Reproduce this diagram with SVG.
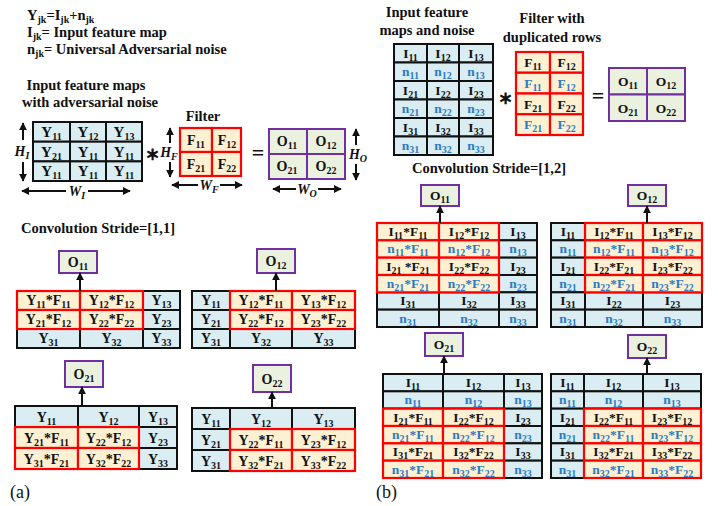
<svg xmlns="http://www.w3.org/2000/svg" width="718" height="506" viewBox="0 0 718 506">
<style>
text{font-family:"Liberation Serif","Times New Roman",serif;font-weight:bold;fill:#111}
.t{font-size:15px;text-anchor:middle}
.m{font-size:14px;text-anchor:middle}
.r{font-size:13.5px;text-anchor:middle}
.h{font-size:14.5px}
.hc{font-size:14.5px;text-anchor:middle}
.s{font-size:10px}
.bl{fill:#2A7BC4}
.cb{fill:#DAEDF3;stroke:#111;stroke-width:2}
.co{fill:#FEF0D2;stroke:#F00;stroke-width:2.2}
.cg{fill:#EBF1DF;stroke:#7030A0;stroke-width:2}
.ln{stroke:#111;stroke-width:2;fill:none}
.it{font-style:italic;font-size:14px;text-anchor:middle}
.sym{font-size:22px;text-anchor:middle}
.ast{font-size:18px;text-anchor:middle}
</style>
<defs>
<marker id="ah" viewBox="0 0 10 10" refX="9" refY="5" markerWidth="8" markerHeight="8" markerUnits="userSpaceOnUse" orient="auto"><path d="M0,0L10,5L0,10z" fill="#111"/></marker>
</defs>

<!-- ===== (a) header ===== -->
<g id="legend">
<text x="27" y="20" class="h">Y<tspan class="s" dy="3">jk</tspan><tspan dy="-3">=I</tspan><tspan class="s" dy="3">jk</tspan><tspan dy="-3">+n</tspan><tspan class="s" dy="3">jk</tspan></text>
<text x="27" y="37" class="h">I<tspan class="s" dy="3">jk</tspan><tspan dy="-3">= Input feature map</tspan></text>
<text x="27" y="54" class="h">n<tspan class="s" dy="3">jk</tspan><tspan dy="-3">= Universal Adversarial noise</tspan></text>
</g>

<g id="a-input">
<text x="86" y="90" class="hc">Input feature maps</text>
<text x="90" y="107" class="hc">with adversarial noise</text>
<rect x="33" y="122" width="37" height="19.7" class="cb"/><rect x="70" y="122" width="36" height="19.7" class="cb"/><rect x="106" y="122" width="36" height="19.7" class="cb"/>
<rect x="33" y="141.7" width="37" height="19.7" class="cb"/><rect x="70" y="141.7" width="36" height="19.7" class="cb"/><rect x="106" y="141.7" width="36" height="19.7" class="cb"/>
<rect x="33" y="161.4" width="37" height="19.6" class="cb"/><rect x="70" y="161.4" width="36" height="19.6" class="cb"/><rect x="106" y="161.4" width="36" height="19.6" class="cb"/>
<text x="51.5" y="137" class="t">Y<tspan class="s" dy="3">11</tspan></text>
<text x="88" y="137" class="t">Y<tspan class="s" dy="3">12</tspan></text>
<text x="124" y="137" class="t">Y<tspan class="s" dy="3">13</tspan></text>
<text x="51.5" y="156.5" class="t">Y<tspan class="s" dy="3">21</tspan></text>
<text x="88" y="156.5" class="t">Y<tspan class="s" dy="3">11</tspan></text>
<text x="124" y="156.5" class="t">Y<tspan class="s" dy="3">11</tspan></text>
<text x="51.5" y="176" class="t">Y<tspan class="s" dy="3">11</tspan></text>
<text x="88" y="176" class="t">Y<tspan class="s" dy="3">11</tspan></text>
<text x="124" y="176" class="t">Y<tspan class="s" dy="3">11</tspan></text>
<line x1="23" y1="140" x2="23" y2="123" class="ln" marker-end="url(#ah)"/>
<line x1="23" y1="162" x2="23" y2="181" class="ln" marker-end="url(#ah)"/>
<text x="22" y="156" class="it">H<tspan class="s" dy="3">I</tspan></text>
<line x1="66" y1="191" x2="22" y2="191" class="ln" marker-end="url(#ah)"/>
<line x1="88" y1="191" x2="130" y2="191" class="ln" marker-end="url(#ah)"/>
<text x="77" y="196" class="it">W<tspan class="s" dy="3">I</tspan></text>
<text x="152" y="160" class="ast">∗</text>
</g>

<g id="a-filter">
<text x="203" y="121" class="hc">Filter</text>
<rect x="180" y="128" width="32" height="24" class="co"/><rect x="212" y="128" width="29" height="24" class="co"/>
<rect x="180" y="152" width="32" height="24" class="co"/><rect x="212" y="152" width="29" height="24" class="co"/>
<text x="196" y="145" class="m">F<tspan class="s" dy="3">11</tspan></text>
<text x="227" y="145" class="m">F<tspan class="s" dy="3">12</tspan></text>
<text x="196" y="169" class="m">F<tspan class="s" dy="3">21</tspan></text>
<text x="227" y="169" class="m">F<tspan class="s" dy="3">22</tspan></text>
<line x1="170" y1="143" x2="170" y2="128" class="ln" marker-end="url(#ah)"/>
<line x1="170" y1="162" x2="170" y2="177" class="ln" marker-end="url(#ah)"/>
<text x="169" y="157" class="it">H<tspan class="s" dy="3">F</tspan></text>
<line x1="198" y1="185" x2="172" y2="185" class="ln" marker-end="url(#ah)"/>
<line x1="220" y1="185" x2="242" y2="185" class="ln" marker-end="url(#ah)"/>
<text x="209" y="190" class="it">W<tspan class="s" dy="3">F</tspan></text>
<text x="258" y="160" class="sym">=</text>
</g>

<g id="a-output">
<rect x="269" y="129" width="38" height="25" class="cg"/><rect x="307" y="129" width="38" height="25" class="cg"/>
<rect x="269" y="154" width="38" height="25" class="cg"/><rect x="307" y="154" width="38" height="25" class="cg"/>
<text x="287" y="146" class="m">O<tspan class="s" dy="3">11</tspan></text>
<text x="326" y="146" class="m">O<tspan class="s" dy="3">12</tspan></text>
<text x="287" y="171" class="m">O<tspan class="s" dy="3">21</tspan></text>
<text x="326" y="171" class="m">O<tspan class="s" dy="3">22</tspan></text>
<line x1="356" y1="145" x2="356" y2="129" class="ln" marker-end="url(#ah)"/>
<line x1="356" y1="164" x2="356" y2="180" class="ln" marker-end="url(#ah)"/>
<text x="358" y="159" class="it">H<tspan class="s" dy="3">O</tspan></text>
<line x1="296" y1="189" x2="273" y2="189" class="ln" marker-end="url(#ah)"/>
<line x1="318" y1="189" x2="341" y2="189" class="ln" marker-end="url(#ah)"/>
<text x="307" y="194" class="it">W<tspan class="s" dy="3">O</tspan></text>
</g>

<text x="21" y="233" class="h">Convolution Stride=[1,1]</text>

<!-- a O11 -->
<g id="a-o11">
<rect x="59" y="251" width="38" height="22" class="cg"/>
<text x="78" y="267" class="m">O<tspan class="s" dy="3">11</tspan></text>
<rect x="17" y="291" width="63" height="19" class="cb"/><rect x="80" y="291" width="63" height="19" class="cb"/><rect x="143" y="291" width="37" height="19" class="cb"/>
<rect x="17" y="310" width="63" height="19" class="cb"/><rect x="80" y="310" width="63" height="19" class="cb"/><rect x="143" y="310" width="37" height="19" class="cb"/>
<rect x="17" y="329" width="63" height="19" class="cb"/><rect x="80" y="329" width="63" height="19" class="cb"/><rect x="143" y="329" width="37" height="19" class="cb"/>
<rect x="17" y="291" width="63" height="19" class="co"/><rect x="80" y="291" width="63" height="19" class="co"/>
<rect x="17" y="310" width="63" height="19" class="co"/><rect x="80" y="310" width="63" height="19" class="co"/>
<text x="48.5" y="305" class="m">Y<tspan class="s" dy="3">11</tspan><tspan dy="-3">*F</tspan><tspan class="s" dy="3">11</tspan></text>
<text x="111.5" y="305" class="m">Y<tspan class="s" dy="3">12</tspan><tspan dy="-3">*F</tspan><tspan class="s" dy="3">12</tspan></text>
<text x="161.5" y="305" class="m">Y<tspan class="s" dy="3">13</tspan></text>
<text x="48.5" y="324" class="m">Y<tspan class="s" dy="3">21</tspan><tspan dy="-3">*F</tspan><tspan class="s" dy="3">12</tspan></text>
<text x="111.5" y="324" class="m">Y<tspan class="s" dy="3">22</tspan><tspan dy="-3">*F</tspan><tspan class="s" dy="3">22</tspan></text>
<text x="161.5" y="324" class="m">Y<tspan class="s" dy="3">23</tspan></text>
<text x="48.5" y="343" class="m">Y<tspan class="s" dy="3">31</tspan></text>
<text x="111.5" y="343" class="m">Y<tspan class="s" dy="3">32</tspan></text>
<text x="161.5" y="343" class="m">Y<tspan class="s" dy="3">33</tspan></text>
</g>

<!-- a O12 -->
<g id="a-o12">
<rect x="257" y="249" width="38" height="24" class="cg"/>
<text x="276" y="266" class="m">O<tspan class="s" dy="3">12</tspan></text>
<rect x="192" y="291" width="38" height="19" class="cb"/><rect x="230" y="291" width="62" height="19" class="cb"/><rect x="292" y="291" width="63" height="19" class="cb"/>
<rect x="192" y="310" width="38" height="19" class="cb"/><rect x="230" y="310" width="62" height="19" class="cb"/><rect x="292" y="310" width="63" height="19" class="cb"/>
<rect x="192" y="329" width="38" height="19" class="cb"/><rect x="230" y="329" width="62" height="19" class="cb"/><rect x="292" y="329" width="63" height="19" class="cb"/>
<rect x="230" y="291" width="62" height="19" class="co"/><rect x="292" y="291" width="63" height="19" class="co"/>
<rect x="230" y="310" width="62" height="19" class="co"/><rect x="292" y="310" width="63" height="19" class="co"/>
<text x="211" y="305" class="m">Y<tspan class="s" dy="3">11</tspan></text>
<text x="261" y="305" class="m">Y<tspan class="s" dy="3">12</tspan><tspan dy="-3">*F</tspan><tspan class="s" dy="3">11</tspan></text>
<text x="323.5" y="305" class="m">Y<tspan class="s" dy="3">13</tspan><tspan dy="-3">*F</tspan><tspan class="s" dy="3">12</tspan></text>
<text x="211" y="324" class="m">Y<tspan class="s" dy="3">21</tspan></text>
<text x="261" y="324" class="m">Y<tspan class="s" dy="3">22</tspan><tspan dy="-3">*F</tspan><tspan class="s" dy="3">12</tspan></text>
<text x="323.5" y="324" class="m">Y<tspan class="s" dy="3">23</tspan><tspan dy="-3">*F</tspan><tspan class="s" dy="3">22</tspan></text>
<text x="211" y="343" class="m">Y<tspan class="s" dy="3">31</tspan></text>
<text x="261" y="343" class="m">Y<tspan class="s" dy="3">32</tspan></text>
<text x="323.5" y="343" class="m">Y<tspan class="s" dy="3">33</tspan></text>
</g>

<!-- a O21 -->
<g id="a-o21">
<rect x="65" y="361" width="38" height="26" class="cg"/>
<text x="84" y="379" class="m">O<tspan class="s" dy="3">21</tspan></text>
<rect x="15" y="406" width="63" height="21" class="cb"/><rect x="78" y="406" width="61" height="21" class="cb"/><rect x="139" y="406" width="38" height="21" class="cb"/>
<rect x="15" y="427" width="63" height="21" class="cb"/><rect x="78" y="427" width="61" height="21" class="cb"/><rect x="139" y="427" width="38" height="21" class="cb"/>
<rect x="15" y="448" width="63" height="21" class="cb"/><rect x="78" y="448" width="61" height="21" class="cb"/><rect x="139" y="448" width="38" height="21" class="cb"/>
<rect x="15" y="427" width="63" height="21" class="co"/><rect x="78" y="427" width="61" height="21" class="co"/>
<rect x="15" y="448" width="63" height="21" class="co"/><rect x="78" y="448" width="61" height="21" class="co"/>
<text x="46.5" y="421.5" class="m">Y<tspan class="s" dy="3">11</tspan></text>
<text x="108.5" y="421.5" class="m">Y<tspan class="s" dy="3">12</tspan></text>
<text x="158" y="421.5" class="m">Y<tspan class="s" dy="3">13</tspan></text>
<text x="46.5" y="442.5" class="m">Y<tspan class="s" dy="3">21</tspan><tspan dy="-3">*F</tspan><tspan class="s" dy="3">11</tspan></text>
<text x="108.5" y="442.5" class="m">Y<tspan class="s" dy="3">22</tspan><tspan dy="-3">*F</tspan><tspan class="s" dy="3">12</tspan></text>
<text x="158" y="442.5" class="m">Y<tspan class="s" dy="3">23</tspan></text>
<text x="46.5" y="463.5" class="m">Y<tspan class="s" dy="3">31</tspan><tspan dy="-3">*F</tspan><tspan class="s" dy="3">21</tspan></text>
<text x="108.5" y="463.5" class="m">Y<tspan class="s" dy="3">32</tspan><tspan dy="-3">*F</tspan><tspan class="s" dy="3">22</tspan></text>
<text x="158" y="463.5" class="m">Y<tspan class="s" dy="3">33</tspan></text>
</g>

<!-- a O22 -->
<g id="a-o22">
<rect x="253" y="365" width="38" height="27" class="cg"/>
<text x="272" y="384" class="m">O<tspan class="s" dy="3">22</tspan></text>
<rect x="192" y="408" width="38" height="21" class="cb"/><rect x="230" y="408" width="62" height="21" class="cb"/><rect x="292" y="408" width="63" height="21" class="cb"/>
<rect x="192" y="429" width="38" height="21" class="cb"/><rect x="230" y="429" width="62" height="21" class="cb"/><rect x="292" y="429" width="63" height="21" class="cb"/>
<rect x="192" y="450" width="38" height="21" class="cb"/><rect x="230" y="450" width="62" height="21" class="cb"/><rect x="292" y="450" width="63" height="21" class="cb"/>
<rect x="230" y="429" width="62" height="21" class="co"/><rect x="292" y="429" width="63" height="21" class="co"/>
<rect x="230" y="450" width="62" height="21" class="co"/><rect x="292" y="450" width="63" height="21" class="co"/>
<text x="211" y="423.5" class="m">Y<tspan class="s" dy="3">11</tspan></text>
<text x="261" y="423.5" class="m">Y<tspan class="s" dy="3">12</tspan></text>
<text x="323.5" y="423.5" class="m">Y<tspan class="s" dy="3">13</tspan></text>
<text x="211" y="444.5" class="m">Y<tspan class="s" dy="3">21</tspan></text>
<text x="261" y="444.5" class="m">Y<tspan class="s" dy="3">22</tspan><tspan dy="-3">*F</tspan><tspan class="s" dy="3">11</tspan></text>
<text x="323.5" y="444.5" class="m">Y<tspan class="s" dy="3">23</tspan><tspan dy="-3">*F</tspan><tspan class="s" dy="3">12</tspan></text>
<text x="211" y="465.5" class="m">Y<tspan class="s" dy="3">31</tspan></text>
<text x="261" y="465.5" class="m">Y<tspan class="s" dy="3">32</tspan><tspan dy="-3">*F</tspan><tspan class="s" dy="3">21</tspan></text>
<text x="323.5" y="465.5" class="m">Y<tspan class="s" dy="3">33</tspan><tspan dy="-3">*F</tspan><tspan class="s" dy="3">22</tspan></text>
</g>

<text x="10" y="498" style="font-weight:normal;font-size:18px">(a)</text>

<!-- ===== (b) ===== -->
<g id="b-input">
<text x="427" y="17" class="hc">Input feature</text>
<text x="427" y="35" class="hc">maps and noise</text>
<rect x="394" y="44" width="33" height="18.5" class="cb"/><rect x="427" y="44" width="32" height="18.5" class="cb"/><rect x="459" y="44" width="34" height="18.5" class="cb"/>
<rect x="394" y="62.5" width="33" height="18.5" class="cb"/><rect x="427" y="62.5" width="32" height="18.5" class="cb"/><rect x="459" y="62.5" width="34" height="18.5" class="cb"/>
<rect x="394" y="81" width="33" height="18.5" class="cb"/><rect x="427" y="81" width="32" height="18.5" class="cb"/><rect x="459" y="81" width="34" height="18.5" class="cb"/>
<rect x="394" y="99.5" width="33" height="18.5" class="cb"/><rect x="427" y="99.5" width="32" height="18.5" class="cb"/><rect x="459" y="99.5" width="34" height="18.5" class="cb"/>
<rect x="394" y="118" width="33" height="18.5" class="cb"/><rect x="427" y="118" width="32" height="18.5" class="cb"/><rect x="459" y="118" width="34" height="18.5" class="cb"/>
<rect x="394" y="136.5" width="33" height="18.5" class="cb"/><rect x="427" y="136.5" width="32" height="18.5" class="cb"/><rect x="459" y="136.5" width="34" height="18.5" class="cb"/>
<text x="410.5" y="57.5" class="r">I<tspan class="s" dy="3">11</tspan></text><text x="443" y="57.5" class="r">I<tspan class="s" dy="3">12</tspan></text><text x="476" y="57.5" class="r">I<tspan class="s" dy="3">13</tspan></text>
<text x="410.5" y="76" class="r bl">n<tspan class="s" dy="3">11</tspan></text><text x="443" y="76" class="r bl">n<tspan class="s" dy="3">12</tspan></text><text x="476" y="76" class="r bl">n<tspan class="s" dy="3">13</tspan></text>
<text x="410.5" y="94.5" class="r">I<tspan class="s" dy="3">21</tspan></text><text x="443" y="94.5" class="r">I<tspan class="s" dy="3">22</tspan></text><text x="476" y="94.5" class="r">I<tspan class="s" dy="3">23</tspan></text>
<text x="410.5" y="113" class="r bl">n<tspan class="s" dy="3">21</tspan></text><text x="443" y="113" class="r bl">n<tspan class="s" dy="3">22</tspan></text><text x="476" y="113" class="r bl">n<tspan class="s" dy="3">23</tspan></text>
<text x="410.5" y="131.5" class="r">I<tspan class="s" dy="3">31</tspan></text><text x="443" y="131.5" class="r">I<tspan class="s" dy="3">32</tspan></text><text x="476" y="131.5" class="r">I<tspan class="s" dy="3">33</tspan></text>
<text x="410.5" y="150" class="r bl">n<tspan class="s" dy="3">31</tspan></text><text x="443" y="150" class="r bl">n<tspan class="s" dy="3">32</tspan></text><text x="476" y="150" class="r bl">n<tspan class="s" dy="3">33</tspan></text>
<text x="505" y="104" class="ast">∗</text>
</g>

<g id="b-filter">
<text x="552" y="23" class="hc">Filter with</text>
<text x="552" y="42" class="hc">duplicated rows</text>
<rect x="516" y="52" width="34" height="20.75" class="co"/><rect x="550" y="52" width="33" height="20.75" class="co"/>
<rect x="516" y="72.75" width="34" height="20.75" class="co"/><rect x="550" y="72.75" width="33" height="20.75" class="co"/>
<rect x="516" y="93.5" width="34" height="20.75" class="co"/><rect x="550" y="93.5" width="33" height="20.75" class="co"/>
<rect x="516" y="114.25" width="34" height="20.75" class="co"/><rect x="550" y="114.25" width="33" height="20.75" class="co"/>
<text x="533" y="67" class="r">F<tspan class="s" dy="3">11</tspan></text><text x="566.5" y="67" class="r">F<tspan class="s" dy="3">12</tspan></text>
<text x="533" y="87.5" class="r bl">F<tspan class="s" dy="3">11</tspan></text><text x="566.5" y="87.5" class="r bl">F<tspan class="s" dy="3">12</tspan></text>
<text x="533" y="108.5" class="r">F<tspan class="s" dy="3">21</tspan></text><text x="566.5" y="108.5" class="r">F<tspan class="s" dy="3">22</tspan></text>
<text x="533" y="129" class="r bl">F<tspan class="s" dy="3">21</tspan></text><text x="566.5" y="129" class="r bl">F<tspan class="s" dy="3">22</tspan></text>
<text x="598" y="103" class="sym">=</text>
</g>

<g id="b-output">
<rect x="609" y="68" width="38" height="26.5" class="cg"/><rect x="647" y="68" width="38" height="26.5" class="cg"/>
<rect x="609" y="94.5" width="38" height="26.5" class="cg"/><rect x="647" y="94.5" width="38" height="26.5" class="cg"/>
<text x="628" y="86" class="r">O<tspan class="s" dy="3">11</tspan></text><text x="666" y="86" class="r">O<tspan class="s" dy="3">12</tspan></text>
<text x="628" y="112.5" class="r">O<tspan class="s" dy="3">21</tspan></text><text x="666" y="112.5" class="r">O<tspan class="s" dy="3">22</tspan></text>
</g>

<text x="412" y="173" class="h">Convolution Stride=[1,2]</text>

<!-- b O11 -->
<g id="b-o11">
<rect x="421" y="185" width="38" height="21" class="cg"/>
<text x="440" y="200" class="r">O<tspan class="s" dy="3">11</tspan></text>
<rect x="377" y="223" width="62" height="17.33" class="cb"/><rect x="439" y="223" width="60" height="17.33" class="cb"/><rect x="499" y="223" width="38" height="17.33" class="cb"/>
<rect x="377" y="240.33" width="62" height="17.33" class="cb"/><rect x="439" y="240.33" width="60" height="17.33" class="cb"/><rect x="499" y="240.33" width="38" height="17.33" class="cb"/>
<rect x="377" y="257.67" width="62" height="17.33" class="cb"/><rect x="439" y="257.67" width="60" height="17.33" class="cb"/><rect x="499" y="257.67" width="38" height="17.33" class="cb"/>
<rect x="377" y="275" width="62" height="17.33" class="cb"/><rect x="439" y="275" width="60" height="17.33" class="cb"/><rect x="499" y="275" width="38" height="17.33" class="cb"/>
<rect x="377" y="292.33" width="62" height="17.33" class="cb"/><rect x="439" y="292.33" width="60" height="17.33" class="cb"/><rect x="499" y="292.33" width="38" height="17.33" class="cb"/>
<rect x="377" y="309.67" width="62" height="17.33" class="cb"/><rect x="439" y="309.67" width="60" height="17.33" class="cb"/><rect x="499" y="309.67" width="38" height="17.33" class="cb"/>
<rect x="377" y="223" width="62" height="17.33" class="co"/><rect x="439" y="223" width="60" height="17.33" class="co"/>
<rect x="377" y="240.33" width="62" height="17.33" class="co"/><rect x="439" y="240.33" width="60" height="17.33" class="co"/>
<rect x="377" y="257.67" width="62" height="17.33" class="co"/><rect x="439" y="257.67" width="60" height="17.33" class="co"/>
<rect x="377" y="275" width="62" height="17.33" class="co"/><rect x="439" y="275" width="60" height="17.33" class="co"/>
<text x="408" y="236" class="r">I<tspan class="s" dy="3">11</tspan><tspan dy="-3">*F</tspan><tspan class="s" dy="3">11</tspan></text>
<text x="469" y="236" class="r">I<tspan class="s" dy="3">12</tspan><tspan dy="-3">*F</tspan><tspan class="s" dy="3">12</tspan></text>
<text x="518" y="236" class="r">I<tspan class="s" dy="3">13</tspan></text>
<text x="408" y="253.3" class="r bl">n<tspan class="s" dy="3">11</tspan><tspan dy="-3">*F</tspan><tspan class="s" dy="3">11</tspan></text>
<text x="469" y="253.3" class="r bl">n<tspan class="s" dy="3">12</tspan><tspan dy="-3">*F</tspan><tspan class="s" dy="3">12</tspan></text>
<text x="518" y="253.3" class="r bl">n<tspan class="s" dy="3">13</tspan></text>
<text x="408" y="270.7" class="r">I<tspan class="s" dy="3">21</tspan><tspan dy="-3"> *F</tspan><tspan class="s" dy="3">21</tspan></text>
<text x="469" y="270.7" class="r">I<tspan class="s" dy="3">22</tspan><tspan dy="-3">*F</tspan><tspan class="s" dy="3">22</tspan></text>
<text x="518" y="270.7" class="r">I<tspan class="s" dy="3">23</tspan></text>
<text x="408" y="288" class="r bl">n<tspan class="s" dy="3">21</tspan><tspan dy="-3">*F</tspan><tspan class="s" dy="3">21</tspan></text>
<text x="469" y="288" class="r bl">n<tspan class="s" dy="3">22</tspan><tspan dy="-3">*F</tspan><tspan class="s" dy="3">22</tspan></text>
<text x="518" y="288" class="r bl">n<tspan class="s" dy="3">23</tspan></text>
<text x="408" y="305.3" class="r">I<tspan class="s" dy="3">31</tspan></text>
<text x="469" y="305.3" class="r">I<tspan class="s" dy="3">32</tspan></text>
<text x="518" y="305.3" class="r">I<tspan class="s" dy="3">33</tspan></text>
<text x="408" y="322.7" class="r bl">n<tspan class="s" dy="3">31</tspan></text>
<text x="469" y="322.7" class="r bl">n<tspan class="s" dy="3">32</tspan></text>
<text x="518" y="322.7" class="r bl">n<tspan class="s" dy="3">33</tspan></text>
</g>

<!-- b O12 -->
<g id="b-o12">
<rect x="628" y="185" width="38" height="21" class="cg"/>
<text x="647" y="200" class="r">O<tspan class="s" dy="3">12</tspan></text>
<rect x="551" y="223" width="34" height="17.33" class="cb"/><rect x="585" y="223" width="58" height="17.33" class="cb"/><rect x="643" y="223" width="59" height="17.33" class="cb"/>
<rect x="551" y="240.33" width="34" height="17.33" class="cb"/><rect x="585" y="240.33" width="58" height="17.33" class="cb"/><rect x="643" y="240.33" width="59" height="17.33" class="cb"/>
<rect x="551" y="257.67" width="34" height="17.33" class="cb"/><rect x="585" y="257.67" width="58" height="17.33" class="cb"/><rect x="643" y="257.67" width="59" height="17.33" class="cb"/>
<rect x="551" y="275" width="34" height="17.33" class="cb"/><rect x="585" y="275" width="58" height="17.33" class="cb"/><rect x="643" y="275" width="59" height="17.33" class="cb"/>
<rect x="551" y="292.33" width="34" height="17.33" class="cb"/><rect x="585" y="292.33" width="58" height="17.33" class="cb"/><rect x="643" y="292.33" width="59" height="17.33" class="cb"/>
<rect x="551" y="309.67" width="34" height="17.33" class="cb"/><rect x="585" y="309.67" width="58" height="17.33" class="cb"/><rect x="643" y="309.67" width="59" height="17.33" class="cb"/>
<rect x="585" y="223" width="58" height="17.33" class="co"/><rect x="643" y="223" width="59" height="17.33" class="co"/>
<rect x="585" y="240.33" width="58" height="17.33" class="co"/><rect x="643" y="240.33" width="59" height="17.33" class="co"/>
<rect x="585" y="257.67" width="58" height="17.33" class="co"/><rect x="643" y="257.67" width="59" height="17.33" class="co"/>
<rect x="585" y="275" width="58" height="17.33" class="co"/><rect x="643" y="275" width="59" height="17.33" class="co"/>
<text x="568" y="236" class="r">I<tspan class="s" dy="3">11</tspan></text>
<text x="614" y="236" class="r">I<tspan class="s" dy="3">12</tspan><tspan dy="-3">*F</tspan><tspan class="s" dy="3">11</tspan></text>
<text x="672.5" y="236" class="r">I<tspan class="s" dy="3">13</tspan><tspan dy="-3">*F</tspan><tspan class="s" dy="3">12</tspan></text>
<text x="568" y="253.3" class="r bl">n<tspan class="s" dy="3">11</tspan></text>
<text x="614" y="253.3" class="r bl">n<tspan class="s" dy="3">12</tspan><tspan dy="-3">*F</tspan><tspan class="s" dy="3">11</tspan></text>
<text x="672.5" y="253.3" class="r bl">n<tspan class="s" dy="3">13</tspan><tspan dy="-3">*F</tspan><tspan class="s" dy="3">12</tspan></text>
<text x="568" y="270.7" class="r">I<tspan class="s" dy="3">21</tspan></text>
<text x="614" y="270.7" class="r">I<tspan class="s" dy="3">22</tspan><tspan dy="-3">*F</tspan><tspan class="s" dy="3">21</tspan></text>
<text x="672.5" y="270.7" class="r">I<tspan class="s" dy="3">23</tspan><tspan dy="-3">*F</tspan><tspan class="s" dy="3">22</tspan></text>
<text x="568" y="288" class="r bl">n<tspan class="s" dy="3">21</tspan></text>
<text x="614" y="288" class="r bl">n<tspan class="s" dy="3">22</tspan><tspan dy="-3">*F</tspan><tspan class="s" dy="3">21</tspan></text>
<text x="672.5" y="288" class="r bl">n<tspan class="s" dy="3">23</tspan><tspan dy="-3">*F</tspan><tspan class="s" dy="3">22</tspan></text>
<text x="568" y="305.3" class="r">I<tspan class="s" dy="3">31</tspan></text>
<text x="614" y="305.3" class="r">I<tspan class="s" dy="3">22</tspan></text>
<text x="672.5" y="305.3" class="r">I<tspan class="s" dy="3">23</tspan></text>
<text x="568" y="322.7" class="r bl">n<tspan class="s" dy="3">31</tspan></text>
<text x="614" y="322.7" class="r bl">n<tspan class="s" dy="3">32</tspan></text>
<text x="672.5" y="322.7" class="r bl">n<tspan class="s" dy="3">33</tspan></text>
</g>

<!-- b O21 -->
<g id="b-o21">
<rect x="425" y="333" width="38" height="23" class="cg"/>
<text x="444" y="349" class="r">O<tspan class="s" dy="3">21</tspan></text>
<rect x="383" y="374" width="60" height="17.33" class="cb"/><rect x="443" y="374" width="61" height="17.33" class="cb"/><rect x="504" y="374" width="38" height="17.33" class="cb"/>
<rect x="383" y="391.33" width="60" height="17.33" class="cb"/><rect x="443" y="391.33" width="61" height="17.33" class="cb"/><rect x="504" y="391.33" width="38" height="17.33" class="cb"/>
<rect x="383" y="408.67" width="60" height="17.33" class="cb"/><rect x="443" y="408.67" width="61" height="17.33" class="cb"/><rect x="504" y="408.67" width="38" height="17.33" class="cb"/>
<rect x="383" y="426" width="60" height="17.33" class="cb"/><rect x="443" y="426" width="61" height="17.33" class="cb"/><rect x="504" y="426" width="38" height="17.33" class="cb"/>
<rect x="383" y="443.33" width="60" height="17.33" class="cb"/><rect x="443" y="443.33" width="61" height="17.33" class="cb"/><rect x="504" y="443.33" width="38" height="17.33" class="cb"/>
<rect x="383" y="460.67" width="60" height="17.33" class="cb"/><rect x="443" y="460.67" width="61" height="17.33" class="cb"/><rect x="504" y="460.67" width="38" height="17.33" class="cb"/>
<rect x="383" y="408.67" width="60" height="17.33" class="co"/><rect x="443" y="408.67" width="61" height="17.33" class="co"/>
<rect x="383" y="426" width="60" height="17.33" class="co"/><rect x="443" y="426" width="61" height="17.33" class="co"/>
<rect x="383" y="443.33" width="60" height="17.33" class="co"/><rect x="443" y="443.33" width="61" height="17.33" class="co"/>
<rect x="383" y="460.67" width="60" height="17.33" class="co"/><rect x="443" y="460.67" width="61" height="17.33" class="co"/>
<text x="413" y="387" class="r">I<tspan class="s" dy="3">11</tspan></text>
<text x="473.5" y="387" class="r">I<tspan class="s" dy="3">12</tspan></text>
<text x="523" y="387" class="r">I<tspan class="s" dy="3">13</tspan></text>
<text x="413" y="404.3" class="r bl">n<tspan class="s" dy="3">11</tspan></text>
<text x="473.5" y="404.3" class="r bl">n<tspan class="s" dy="3">12</tspan></text>
<text x="523" y="404.3" class="r bl">n<tspan class="s" dy="3">13</tspan></text>
<text x="413" y="421.7" class="r">I<tspan class="s" dy="3">21</tspan><tspan dy="-3">*F</tspan><tspan class="s" dy="3">11</tspan></text>
<text x="473.5" y="421.7" class="r">I<tspan class="s" dy="3">22</tspan><tspan dy="-3">*F</tspan><tspan class="s" dy="3">12</tspan></text>
<text x="523" y="421.7" class="r">I<tspan class="s" dy="3">23</tspan></text>
<text x="413" y="439" class="r bl">n<tspan class="s" dy="3">21</tspan><tspan dy="-3">*F</tspan><tspan class="s" dy="3">11</tspan></text>
<text x="473.5" y="439" class="r bl">n<tspan class="s" dy="3">22</tspan><tspan dy="-3">*F</tspan><tspan class="s" dy="3">12</tspan></text>
<text x="523" y="439" class="r bl">n<tspan class="s" dy="3">23</tspan></text>
<text x="413" y="456.3" class="r">I<tspan class="s" dy="3">31</tspan><tspan dy="-3">*F</tspan><tspan class="s" dy="3">21</tspan></text>
<text x="473.5" y="456.3" class="r">I<tspan class="s" dy="3">32</tspan><tspan dy="-3">*F</tspan><tspan class="s" dy="3">22</tspan></text>
<text x="523" y="456.3" class="r">I<tspan class="s" dy="3">33</tspan></text>
<text x="413" y="473.7" class="r bl">n<tspan class="s" dy="3">31</tspan><tspan dy="-3">*F</tspan><tspan class="s" dy="3">21</tspan></text>
<text x="473.5" y="473.7" class="r bl">n<tspan class="s" dy="3">32</tspan><tspan dy="-3">*F</tspan><tspan class="s" dy="3">22</tspan></text>
<text x="523" y="473.7" class="r bl">n<tspan class="s" dy="3">33</tspan></text>
</g>

<!-- b O22 -->
<g id="b-o22">
<rect x="628" y="335" width="38" height="23" class="cg"/>
<text x="647" y="351" class="r">O<tspan class="s" dy="3">22</tspan></text>
<rect x="551" y="374" width="33" height="17.33" class="cb"/><rect x="584" y="374" width="59" height="17.33" class="cb"/><rect x="643" y="374" width="58" height="17.33" class="cb"/>
<rect x="551" y="391.33" width="33" height="17.33" class="cb"/><rect x="584" y="391.33" width="59" height="17.33" class="cb"/><rect x="643" y="391.33" width="58" height="17.33" class="cb"/>
<rect x="551" y="408.67" width="33" height="17.33" class="cb"/><rect x="584" y="408.67" width="59" height="17.33" class="cb"/><rect x="643" y="408.67" width="58" height="17.33" class="cb"/>
<rect x="551" y="426" width="33" height="17.33" class="cb"/><rect x="584" y="426" width="59" height="17.33" class="cb"/><rect x="643" y="426" width="58" height="17.33" class="cb"/>
<rect x="551" y="443.33" width="33" height="17.33" class="cb"/><rect x="584" y="443.33" width="59" height="17.33" class="cb"/><rect x="643" y="443.33" width="58" height="17.33" class="cb"/>
<rect x="551" y="460.67" width="33" height="17.33" class="cb"/><rect x="584" y="460.67" width="59" height="17.33" class="cb"/><rect x="643" y="460.67" width="58" height="17.33" class="cb"/>
<rect x="584" y="408.67" width="59" height="17.33" class="co"/><rect x="643" y="408.67" width="58" height="17.33" class="co"/>
<rect x="584" y="426" width="59" height="17.33" class="co"/><rect x="643" y="426" width="58" height="17.33" class="co"/>
<rect x="584" y="443.33" width="59" height="17.33" class="co"/><rect x="643" y="443.33" width="58" height="17.33" class="co"/>
<rect x="584" y="460.67" width="59" height="17.33" class="co"/><rect x="643" y="460.67" width="58" height="17.33" class="co"/>
<text x="567.5" y="387" class="r">I<tspan class="s" dy="3">11</tspan></text>
<text x="613.5" y="387" class="r">I<tspan class="s" dy="3">12</tspan></text>
<text x="672" y="387" class="r">I<tspan class="s" dy="3">13</tspan></text>
<text x="567.5" y="404.3" class="r bl">n<tspan class="s" dy="3">11</tspan></text>
<text x="613.5" y="404.3" class="r bl">n<tspan class="s" dy="3">12</tspan></text>
<text x="672" y="404.3" class="r bl">n<tspan class="s" dy="3">13</tspan></text>
<text x="567.5" y="421.7" class="r">I<tspan class="s" dy="3">21</tspan></text>
<text x="613.5" y="421.7" class="r">I<tspan class="s" dy="3">22</tspan><tspan dy="-3">*F</tspan><tspan class="s" dy="3">11</tspan></text>
<text x="672" y="421.7" class="r">I<tspan class="s" dy="3">23</tspan><tspan dy="-3">*F</tspan><tspan class="s" dy="3">12</tspan></text>
<text x="567.5" y="439" class="r bl">n<tspan class="s" dy="3">21</tspan></text>
<text x="613.5" y="439" class="r bl">n<tspan class="s" dy="3">22</tspan><tspan dy="-3">*F</tspan><tspan class="s" dy="3">11</tspan></text>
<text x="672" y="439" class="r bl">n<tspan class="s" dy="3">23</tspan><tspan dy="-3">*F</tspan><tspan class="s" dy="3">12</tspan></text>
<text x="567.5" y="456.3" class="r">I<tspan class="s" dy="3">31</tspan></text>
<text x="613.5" y="456.3" class="r">I<tspan class="s" dy="3">32</tspan><tspan dy="-3">*F</tspan><tspan class="s" dy="3">21</tspan></text>
<text x="672" y="456.3" class="r">I<tspan class="s" dy="3">33</tspan><tspan dy="-3">*F</tspan><tspan class="s" dy="3">22</tspan></text>
<text x="567.5" y="473.7" class="r bl">n<tspan class="s" dy="3">31</tspan></text>
<text x="613.5" y="473.7" class="r bl">n<tspan class="s" dy="3">32</tspan><tspan dy="-3">*F</tspan><tspan class="s" dy="3">21</tspan></text>
<text x="672" y="473.7" class="r bl">n<tspan class="s" dy="3">33</tspan><tspan dy="-3">*F</tspan><tspan class="s" dy="3">22</tspan></text>
</g>

<text x="376" y="498" style="font-weight:normal;font-size:18px">(b)</text>

<g id="connectors">
<line x1="80" y1="291" x2="80" y2="273" class="ln" marker-end="url(#ah)"/>
<line x1="276" y1="291" x2="276" y2="273" class="ln" marker-end="url(#ah)"/>
<line x1="82" y1="406" x2="82" y2="387" class="ln" marker-end="url(#ah)"/>
<line x1="272" y1="408" x2="272" y2="392" class="ln" marker-end="url(#ah)"/>
<line x1="440" y1="223" x2="440" y2="206" class="ln" marker-end="url(#ah)"/>
<line x1="647" y1="223" x2="647" y2="206" class="ln" marker-end="url(#ah)"/>
<line x1="444" y1="374" x2="444" y2="356" class="ln" marker-end="url(#ah)"/>
<line x1="647" y1="374" x2="647" y2="358" class="ln" marker-end="url(#ah)"/>
</g>
</svg>
